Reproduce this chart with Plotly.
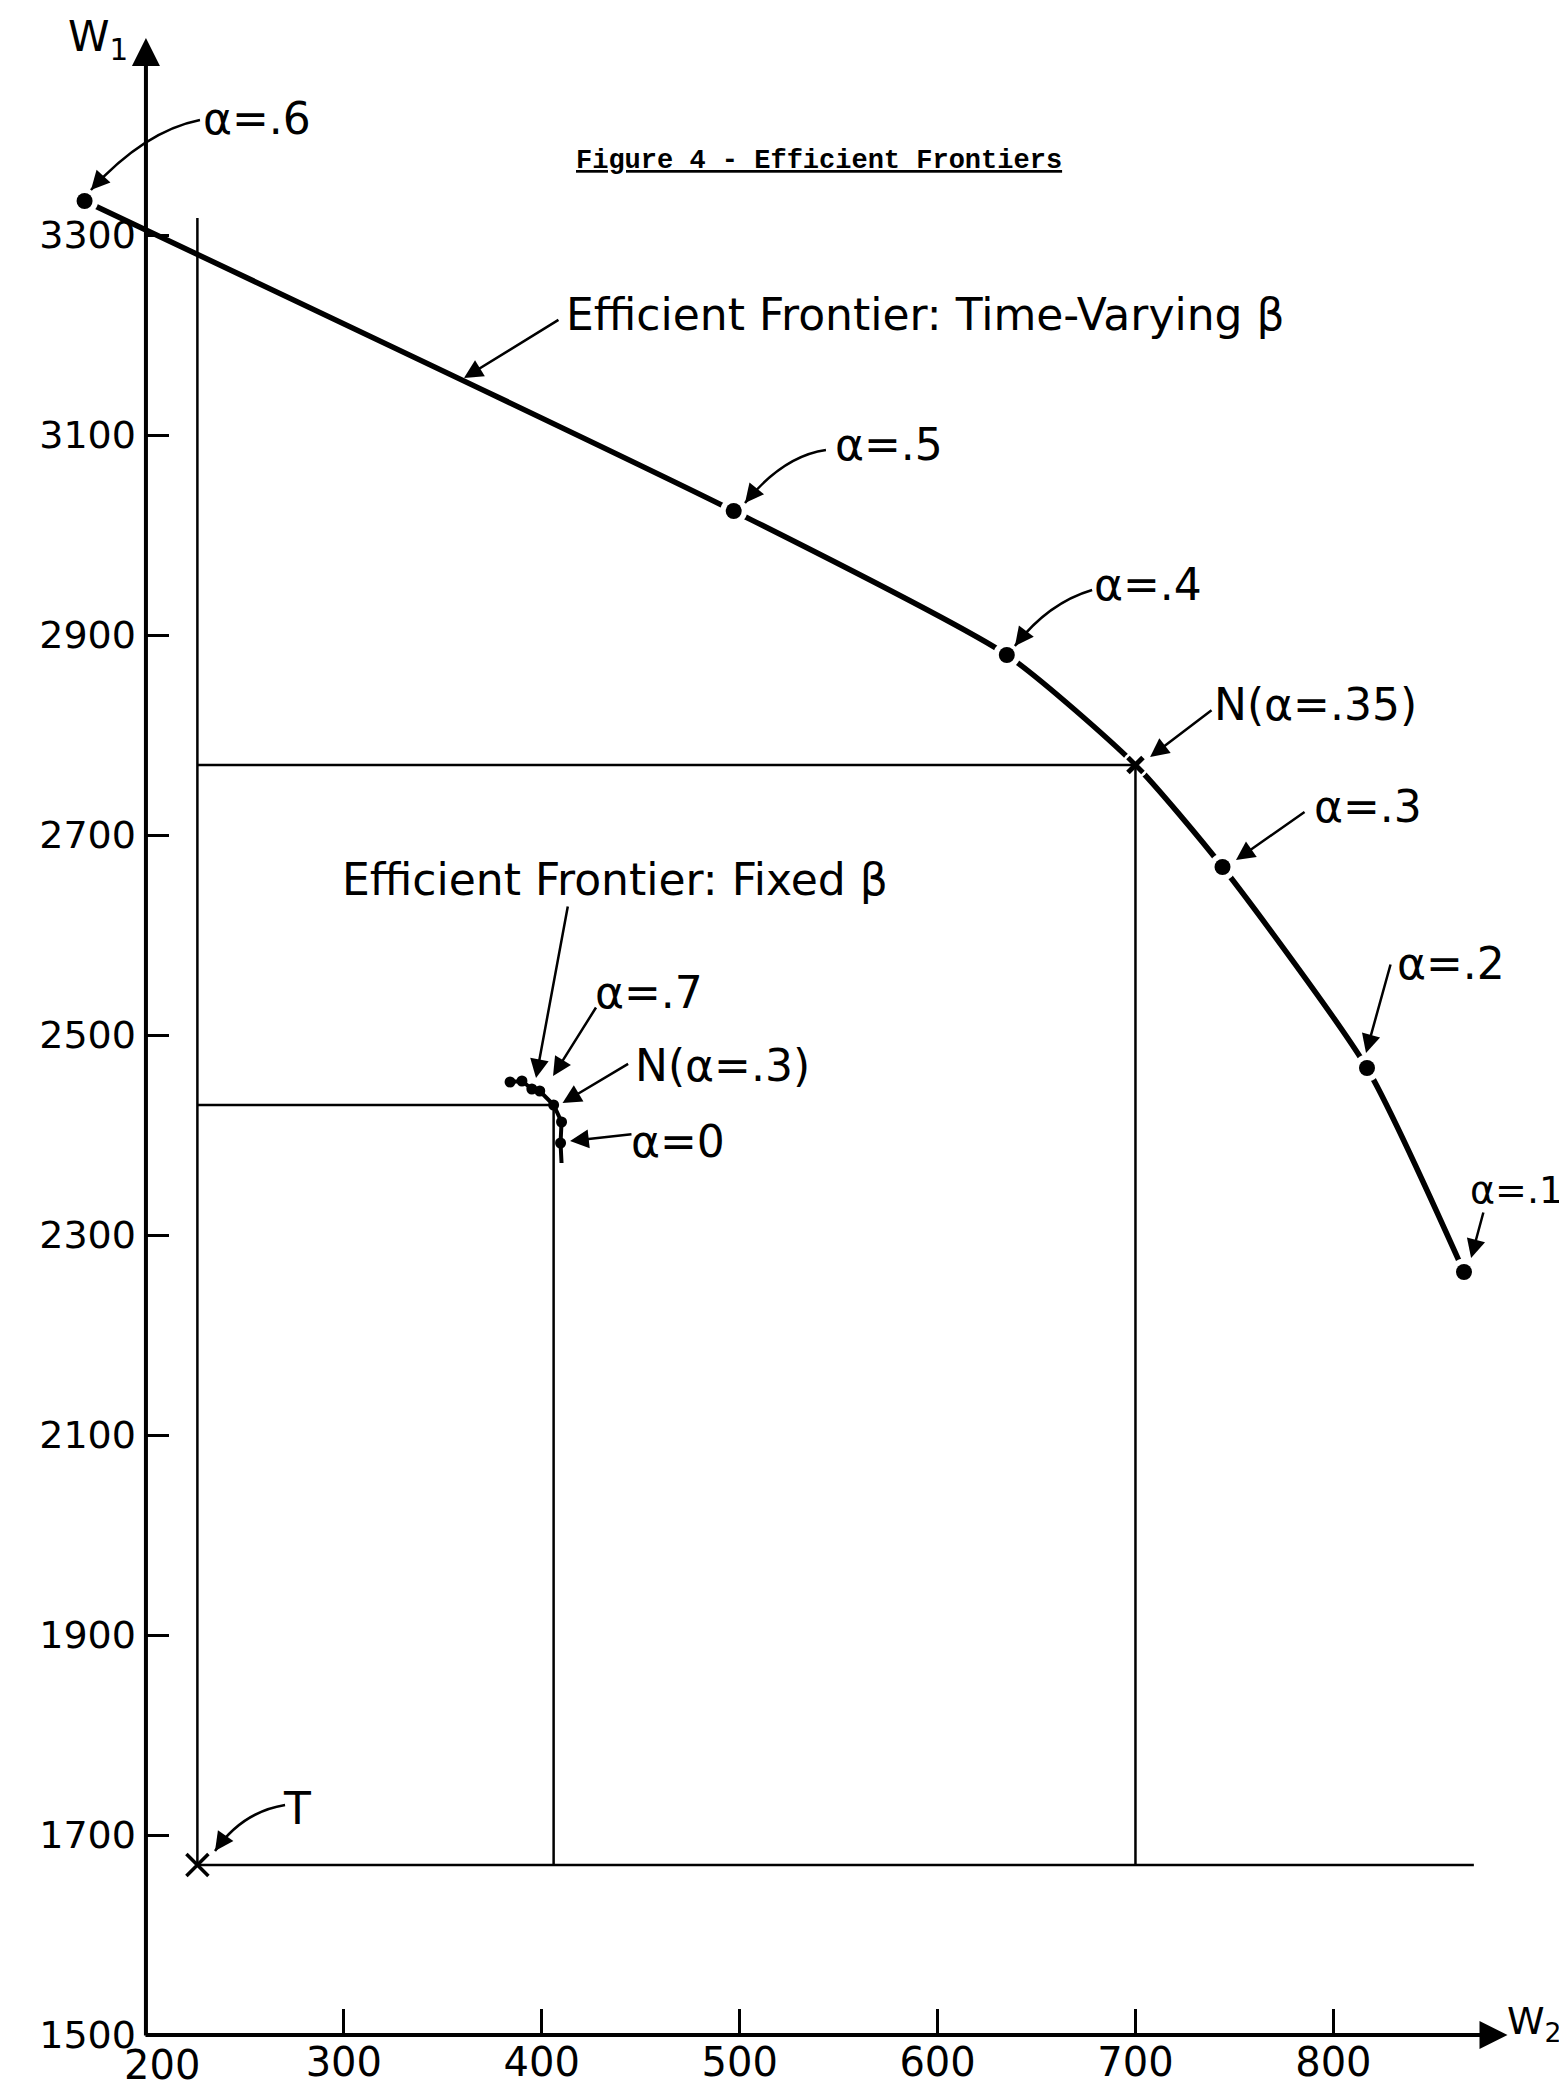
import math
import plotly.graph_objects as go

# ---------------- data ----------------
# Efficient frontier with time-varying beta
tv_alpha = [".6", ".5", ".4", ".35", ".3", ".2", ".1"]
tv_w2 = [169, 497, 635, 700, 744, 817, 866]
tv_w1 = [3334, 3024, 2880, 2770, 2668, 2467, 2263]
tv_is_dot = [True, True, True, False, True, True, True]   # .35 is the cross N

# Efficient frontier with fixed beta (last point = tail of the curve, no dot)
fx_w2 = [384, 390, 395, 399, 406, 410, 409.5, 410]
fx_w1 = [2453, 2454, 2446, 2444, 2430, 2413, 2392, 2372]
fx_is_dot = [True, True, True, True, True, True, True, False]
fx_n_index = 4        # N(alpha=.3)
tv_n_index = 3        # N(alpha=.35)

# Threat point T
t_w2 = [226]
t_w1 = [1670]

# extent of the guide lines through T
t_line_top_w1 = 3317
t_line_right_w2 = 871

x_tick_vals = [200, 300, 400, 500, 600, 700, 800]
y_tick_vals = [1500, 1700, 1900, 2100, 2300, 2500, 2700, 2900, 3100, 3300]

# ---------------- layout geometry ----------------
W, H = 1567, 2085
X0, X1 = 130.3, 922.1
Y0, Y1 = 1442.0, 3527.0
AX_X, AX_Y = 200, 1500          # axis origin
AX_X_END, AX_Y_END = 888, 3497  # arrow tips of the axes

FONT = "DejaVu Sans"
LBL = 44
BLACK = "black"


def to_px(x, y):
    return ((x - X0) / (X1 - X0) * W, (Y1 - y) / (Y1 - Y0) * H)


def to_data(px, py):
    return (X0 + px / W * (X1 - X0), Y1 - py / H * (Y1 - Y0))


fig = go.Figure()

# time-varying frontier curve
fig.add_trace(go.Scatter(x=tv_w2, y=tv_w1, mode="lines",
                         line=dict(color=BLACK, width=5.5, shape="spline", smoothing=0.6),
                         hoverinfo="skip", showlegend=False))
# fixed-beta frontier curve
fig.add_trace(go.Scatter(x=fx_w2, y=fx_w1, mode="lines",
                         line=dict(color=BLACK, width=4),
                         hoverinfo="skip", showlegend=False))
# white gaps around the frontier points (pen lifted near the dots)
fig.add_trace(go.Scatter(x=tv_w2, y=tv_w1, mode="markers",
                         marker=dict(color="white", size=27),
                         hoverinfo="skip", showlegend=False))

# guide lines: through T, and the two N boxes
tn_x, tn_y = tv_w2[tv_n_index], tv_w1[tv_n_index]
fn_x, fn_y = fx_w2[fx_n_index], fx_w1[fx_n_index]
guide_x = [t_w2[0], t_w2[0], None, t_w2[0], t_line_right_w2, None,
           t_w2[0], tn_x, tn_x, None, t_w2[0], fn_x, fn_x]
guide_y = [t_w1[0], t_line_top_w1, None, t_w1[0], t_w1[0], None,
           tn_y, tn_y, t_w1[0], None, fn_y, fn_y, t_w1[0]]
fig.add_trace(go.Scatter(x=guide_x, y=guide_y, mode="lines",
                         line=dict(color=BLACK, width=2.5),
                         hoverinfo="skip", showlegend=False))

# dots on the time-varying frontier
fig.add_trace(go.Scatter(x=[a for a, d in zip(tv_w2, tv_is_dot) if d],
                         y=[b for b, d in zip(tv_w1, tv_is_dot) if d],
                         mode="markers", marker=dict(color=BLACK, size=16),
                         hoverinfo="skip", showlegend=False))
# N cross on the time-varying frontier
fig.add_trace(go.Scatter(x=[tn_x], y=[tn_y], mode="markers",
                         marker=dict(symbol="x-thin", size=15, line=dict(color=BLACK, width=5)),
                         hoverinfo="skip", showlegend=False))
# dots on the fixed-beta frontier
fig.add_trace(go.Scatter(x=[a for a, d in zip(fx_w2, fx_is_dot) if d],
                         y=[b for b, d in zip(fx_w1, fx_is_dot) if d],
                         mode="markers", marker=dict(color=BLACK, size=11),
                         hoverinfo="skip", showlegend=False))
# T cross
fig.add_trace(go.Scatter(x=t_w2, y=t_w1, mode="markers",
                         marker=dict(symbol="x-thin", size=22, line=dict(color=BLACK, width=3.5)),
                         hoverinfo="skip", showlegend=False))

annotations = []
shapes = []

# axes drawn as arrows from the origin
annotations.append(dict(x=AX_X_END, y=AX_Y, ax=AX_X - 1, ay=AX_Y, xref="x", yref="y",
                        axref="x", ayref="y", text="", showarrow=True,
                        arrowhead=2, arrowwidth=4, arrowsize=1.4, arrowcolor=BLACK))
annotations.append(dict(x=AX_X, y=AX_Y_END, ax=AX_X, ay=AX_Y - 2, xref="x", yref="y",
                        axref="x", ayref="y", text="", showarrow=True,
                        arrowhead=2, arrowwidth=4, arrowsize=1.4, arrowcolor=BLACK))

# text labels (left edge, vertical middle, font size)
labels = [
    ("α=.6", 227.8, 3417, LBL),
    ("Efficient Frontier: Time-Varying β", 411.2, 3221, LBL),
    ("α=.5", 547.2, 3091, LBL),
    ("α=.4", 678.1, 2951, LBL),
    ("N(α=.35)", 738.7, 2831, LBL),
    ("α=.3", 789.2, 2729, LBL),
    ("α=.2", 831.2, 2572, LBL),
    ("α=.1", 868.1, 2345, 38),
    ("Efficient Frontier: Fixed β", 298.1, 2656, LBL),
    ("α=.7", 425.9, 2543, LBL),
    ("N(α=.3)", 446.1, 2470, LBL),
    ("α=0", 444.1, 2394, LBL),
    ("T", 268.2, 1727, LBL),
]
for txt, lx, ly, fs in labels:
    annotations.append(dict(x=lx, y=ly, xref="x", yref="y", text=txt, showarrow=False,
                            xanchor="left", yanchor="middle",
                            font=dict(family=FONT, size=fs, color=BLACK)))

# pointer arrows: (tail, tip, bend control or None)
arrows = [
    ((227.3, 3415), (172.2, 3345), (199.3, 3404)),
    ((409.2, 3216), (360.7, 3157), None),
    ((543.6, 3085), (502.7, 3032), (521.9, 3079)),
    ((678.1, 2945), (639.1, 2889), (655.8, 2932)),
    ((739.2, 2826), (707.4, 2778), None),
    ((786.2, 2724), (750.8, 2675), None),
    ((829.1, 2572), (816.5, 2482), None),
    ((876.0, 2324), (869.6, 2277), None),
    ((413.3, 2630), (397.1, 2457), None),
    ((427.9, 2529), (405.7, 2459), None),
    ((444.4, 2472), (410.5, 2432), None),
    ((446.1, 2401), (414.3, 2394), None),
    ((270.3, 1730), (234.9, 1684), (248.5, 1723)),
]
HEAD_BACK = 20
for tail, tip, ctrl in arrows:
    if ctrl is None:
        annotations.append(dict(x=tip[0], y=tip[1], ax=tail[0], ay=tail[1],
                                xref="x", yref="y", axref="x", ayref="y", text="",
                                showarrow=True, arrowhead=2, arrowwidth=2.5,
                                arrowsize=1.5, arrowcolor=BLACK))
    else:
        shapes.append(dict(type="path", xref="x", yref="y",
                           path=f"M {tail[0]},{tail[1]} Q {ctrl[0]},{ctrl[1]} {tip[0]},{tip[1]}",
                           line=dict(color=BLACK, width=2.5)))
        tpx, tpy = to_px(*tip)
        cpx, cpy = to_px(*ctrl)
        d = math.hypot(cpx - tpx, cpy - tpy)
        bx, by = to_data(tpx + (cpx - tpx) / d * HEAD_BACK, tpy + (cpy - tpy) / d * HEAD_BACK)
        annotations.append(dict(x=tip[0], y=tip[1], ax=bx, ay=by,
                                xref="x", yref="y", axref="x", ayref="y", text="",
                                showarrow=True, arrowhead=2, arrowwidth=2.5,
                                arrowsize=1.5, arrowcolor=BLACK))

# tick label at the origin of the W2 axis, set a little to the right as in the reference
annotations.append(dict(x=x_tick_vals[0], y=AX_Y, xref="x", yref="y", text=str(x_tick_vals[0]),
                        showarrow=False, xanchor="center", yanchor="middle",
                        xshift=16, yshift=-30,
                        font=dict(family=FONT, size=40, color=BLACK)))

# axis names
annotations.append(dict(x=58 / W, y=1 - 32 / H, xref="paper", yref="paper",
                        text="W<sub>1</sub>", showarrow=False, xanchor="left", yanchor="middle",
                        font=dict(family=FONT, size=42, color=BLACK)))
annotations.append(dict(x=1497 / W, y=1 - 2015 / H, xref="paper", yref="paper",
                        text="W<sub>2</sub>", showarrow=False, xanchor="left", yanchor="middle",
                        font=dict(family=FONT, size=38, color=BLACK)))

# figure title
annotations.append(dict(x=811 / W, y=1 - 153 / H, xref="paper", yref="paper",
                        text="<u><b>Figure 4 - Efficient Frontiers</b></u>", showarrow=False,
                        xanchor="center", yanchor="middle",
                        font=dict(family="Liberation Mono", size=27, color=BLACK)))

fig.update_layout(
    width=W, height=H, autosize=False,
    margin=dict(l=0, r=0, t=0, b=0),
    paper_bgcolor="white", plot_bgcolor="white",
    showlegend=False,
    annotations=annotations,
    shapes=shapes,
    xaxis=dict(range=[X0, X1], anchor="free",
               position=(AX_Y - Y0) / (Y1 - Y0),
               showline=False, showgrid=False, zeroline=False,
               tickvals=x_tick_vals[1:], ticktext=[str(v) for v in x_tick_vals[1:]],
               ticks="inside", ticklen=26, tickwidth=3, tickcolor=BLACK,
               ticklabelstandoff=0,
               tickfont=dict(family=FONT, size=40, color=BLACK)),
    yaxis=dict(range=[Y0, Y1], anchor="free",
               position=(AX_X - X0) / (X1 - X0),
               showline=False, showgrid=False, zeroline=False,
               tickvals=y_tick_vals, ticktext=[str(v) for v in y_tick_vals],
               ticks="inside", ticklen=22, tickwidth=3, tickcolor=BLACK,
               ticklabelstandoff=10,
               tickfont=dict(family=FONT, size=38, color=BLACK)),
)

fig.write_html("out.html")
